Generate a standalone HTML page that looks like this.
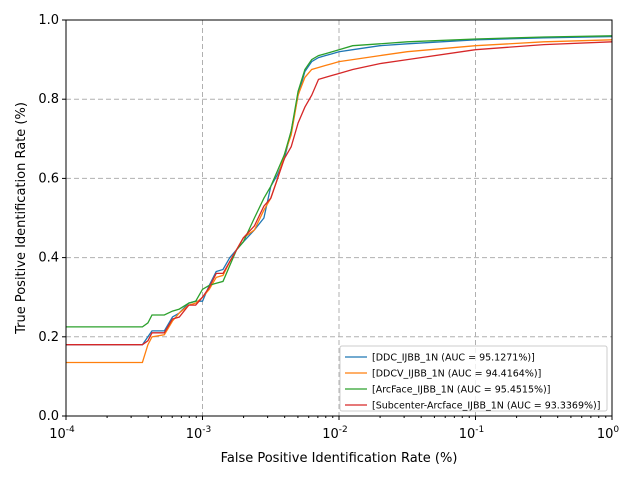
<!DOCTYPE html>
<html><head><meta charset="utf-8"><style>
body{margin:0;background:#fff;font-family:"Liberation Sans","DejaVu Sans",sans-serif}
</style></head><body>
<svg id="chart" width="639" height="479" font-family="DejaVu Sans, Liberation Sans, sans-serif">
<rect width="639" height="479" fill="#fff"/>
<g id="grid"></g><g id="series"></g><g id="axes"></g>
<g id="legend">
<rect x="340" y="346" width="267" height="65" fill="#fff" fill-opacity="0.8" stroke="#ccc" rx="2"/>
</g>
</svg>
<script>
const xLog=[-4,-3.44,-3.40,-3.37,-3.28,-3.22,-3.17,-3.10,-3.05,-3.00,-2.95,-2.90,-2.85,-2.80,-2.75,-2.70,-2.62,-2.55,-2.50,-2.45,-2.40,-2.35,-2.30,-2.25,-2.20,-2.15,-2.10,-2.05,-2.0,-1.9,-1.7,-1.5,-1.0,-0.5,0];
const ddc=[0.18,0.18,0.20,0.215,0.215,0.25,0.26,0.285,0.29,0.29,0.33,0.365,0.37,0.40,0.42,0.44,0.47,0.50,0.58,0.61,0.65,0.72,0.81,0.87,0.895,0.905,0.91,0.915,0.92,0.925,0.935,0.94,0.95,0.955,0.958];
const ddcv=[0.135,0.135,0.18,0.20,0.205,0.24,0.26,0.28,0.285,0.30,0.32,0.35,0.355,0.39,0.42,0.45,0.47,0.52,0.55,0.60,0.66,0.71,0.81,0.855,0.875,0.88,0.885,0.89,0.895,0.90,0.91,0.92,0.935,0.945,0.95];
const arcface=[0.225,0.225,0.235,0.255,0.255,0.265,0.27,0.285,0.29,0.32,0.33,0.335,0.34,0.38,0.42,0.44,0.50,0.55,0.58,0.62,0.66,0.72,0.82,0.875,0.90,0.91,0.915,0.92,0.925,0.935,0.94,0.945,0.952,0.957,0.96];
const subcenter=[0.18,0.18,0.19,0.21,0.21,0.245,0.25,0.28,0.28,0.30,0.325,0.36,0.36,0.39,0.42,0.45,0.48,0.53,0.55,0.60,0.65,0.68,0.74,0.78,0.81,0.85,0.855,0.86,0.865,0.875,0.89,0.90,0.925,0.938,0.945];
const seriesNames=["[DDC_IJBB_1N (AUC = 95.1271%)]","[DDCV_IJBB_1N (AUC = 94.4164%)]","[ArcFace_IJBB_1N (AUC = 95.4515%)]","[Subcenter-Arcface_IJBB_1N (AUC = 93.3369%)]"];
const yTicks=[0,0.2,0.4,0.6,0.8,1.0];
const xTicks=[-4,-3,-2,-1,0];

const L=66,R=612,T=20,B=416,NS="http://www.w3.org/2000/svg";
const sx=v=>L+(v+4)/4*(R-L), sy=v=>B-v*(B-T);
function mk(tag,attrs,parent,txt){const e=document.createElementNS(NS,tag);for(const k in attrs)e.setAttribute(k,attrs[k]);if(txt!==undefined)e.textContent=txt;parent.appendChild(e);return e;}
const grid=document.getElementById('grid'),axes=document.getElementById('axes'),ser=document.getElementById('series'),leg=document.getElementById('legend');
yTicks.forEach(v=>{
  if(v>0&&v<1){const g=mk('line',{x1:L,x2:R,y1:sy(v),y2:sy(v),stroke:'#b0b0b0','stroke-dasharray':'5,3'},grid);
  }
  mk('line',{x1:L-4,x2:L,y1:sy(v),y2:sy(v),stroke:'#000'},axes);
  const t=mk('text',{x:L-7,y:sy(v)+4,'text-anchor':'end','font-size':13},axes,v.toFixed(1));
  
});
xTicks.forEach(v=>{
  if(v>-4&&v<0){const g=mk('line',{x1:sx(v),x2:sx(v),y1:T,y2:B,stroke:'#b0b0b0','stroke-dasharray':'5,3'},grid);
  }
  mk('line',{x1:sx(v),x2:sx(v),y1:B,y2:B+4,stroke:'#000'},axes);
  const t=mk('text',{x:sx(v)-4,y:B+22,'text-anchor':'middle','font-size':13},axes,'10');
  const s=mk('tspan',{dy:-6,'font-size':9},t,String(v));
  
  if(v<0)for(let k=2;k<10;k++){const xx=sx(v+Math.log10(k));mk('line',{x1:xx,x2:xx,y1:B,y2:B+2,stroke:'#000'},axes);}
});
mk('rect',{x:L,y:T,width:R-L,height:B-T,fill:'none',stroke:'#000'},axes);
const xl=mk('text',{x:(L+R)/2,y:462,'text-anchor':'middle','font-size':13},axes,'False Positive Identification Rate (%)');

const yl=mk('text',{x:0,y:0,transform:`translate(25,${(T+B)/2}) rotate(-90)`,'text-anchor':'middle','font-size':13},axes,'True Positive Identification Rate (%)');

const colors=['#1f77b4','#ff7f0e','#2ca02c','#d62728'];
[ddc,ddcv,arcface,subcenter].forEach((arr,i)=>{
  const d=arr.map((v,j)=>(j?'L':'M')+sx(xLog[j]).toFixed(1)+','+sy(v).toFixed(1)).join('');
  const p=mk('path',{d,fill:'none',stroke:colors[i],'stroke-width':1.3},ser);
  
  const y=357+i*16;
  mk('line',{x1:345,x2:367,y1:y,y2:y,stroke:colors[i],'stroke-width':1.3},leg);
  const t=mk('text',{x:372,y:y+3.5,'font-size':9.5},leg,seriesNames[i]);
  
});
</script>
</body></html>
